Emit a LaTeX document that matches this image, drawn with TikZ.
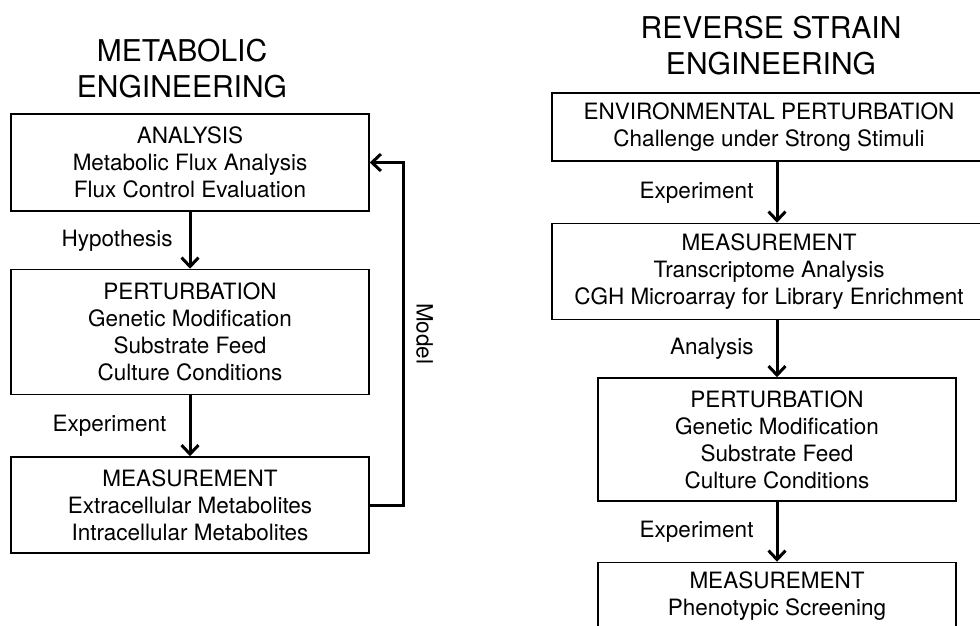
\documentclass[tikz,border=0pt]{standalone}
\usepackage{fontspec}
\setmainfont{TeX Gyre Heros}
\usepackage{tikz}
\usetikzlibrary{positioning,arrows.meta}

\begin{document}
\begin{tikzpicture}[
  x=1pt, y=1pt,
  node distance=59pt,
  stage/.style={rectangle, draw, line width=1.5pt, minimum width=358pt, align=center, font=\fontsize{22.5}{27}\selectfont},
  wide/.style={stage, minimum width=434pt},
  heading/.style={align=center, font=\fontsize{30}{36}\selectfont},
  arrow/.style={-{Straight Barb[length=9pt, width=17pt]}, line width=3pt},
  lbl/.style={inner sep=0pt, font=\fontsize{22.5}{27}\selectfont}
]
\useasboundingbox (0,0) rectangle (980,-626);

% metabolic engineering
\node[stage, minimum height=97pt] (analysis) at (190,-162.5) {ANALYSIS\\Metabolic Flux Analysis\\Flux Control Evaluation};
\node[stage, minimum height=125pt, below=57pt of analysis] (perturb) {PERTURBATION\\Genetic Modification\\Substrate Feed\\Culture Conditions};
\node[stage, minimum height=96pt, below=61pt of perturb] (measure) {MEASUREMENT\\Extracellular Metabolites\\Intracellular Metabolites};
\node[heading, above=12pt of analysis, xshift=-8pt] (metab) {METABOLIC\\ENGINEERING};

\draw[arrow] (analysis) -- node[lbl, left=16pt] {Hypothesis} (perturb);
\draw[arrow] (perturb) -- node[lbl, left=22pt] {Experiment} (measure);
\coordinate[right=34pt of measure.east] (loopturn);
\draw[arrow] (measure.east) -- (loopturn) |- node[lbl, pos=0.25, anchor=south, rotate=-90, inner sep=11pt] {Model} (analysis.east);

% reverse strain engineering
\node[wide, minimum height=68pt] (envpert) at (769,-127) {ENVIRONMENTAL PERTURBATION\\Challenge under Strong Stimuli};
\node[wide, minimum height=96pt, below=61pt of envpert] (measure2) {MEASUREMENT\\Transcriptome Analysis\\CGH Microarray for Library Enrichment};
\node[stage, minimum height=123pt, below=57pt of measure2, xshift=8pt] (perturb2) {PERTURBATION\\Genetic Modification\\Substrate Feed\\Culture Conditions};
\node[stage, minimum height=67pt, below=60pt of perturb2] (measure3) {MEASUREMENT\\Phenotypic Screening};
\node[heading, above=14pt of envpert, xshift=2pt] (reverse) {REVERSE STRAIN\\ENGINEERING};

\draw[arrow] (envpert.south -| perturb2.north) -- node[lbl, left=22pt] {Experiment} (measure2.north -| perturb2.north);
\draw[arrow] (measure2.south -| perturb2.north) -- node[lbl, left=22pt] {Analysis} (perturb2);
\draw[arrow] (perturb2) -- node[lbl, left=22pt] {Experiment} (measure3);

\end{tikzpicture}
\end{document}
